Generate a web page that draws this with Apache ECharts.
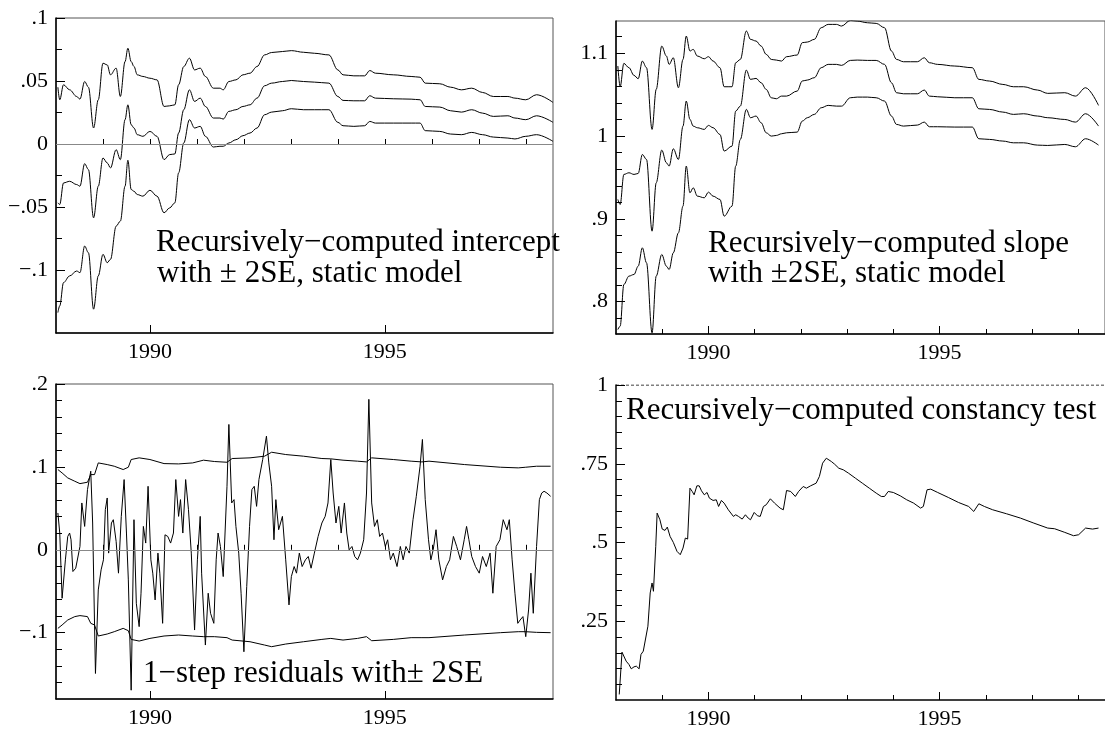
<!DOCTYPE html>
<html><head><meta charset="utf-8">
<script src="https://cdn.jsdelivr.net/npm/echarts@6/dist/echarts.min.js"></script>
<style>html,body{margin:0;padding:0;background:#fff}#c{width:1105px;height:730px}</style>
</head><body><div id="c"></div><script>
// ---------- x axis ----------
const X_MIN = 1988, X_MAX = 1998.58;
const xMajor = [1990, 1995];
const xMinor = [1989, 1990, 1991, 1992, 1993, 1994, 1995, 1996, 1997, 1998];

// ---------- panel 1: recursive intercept ----------
const interceptYears = [
1988.04,1988.08,1988.16,1988.29,1988.44,1988.51,1988.61,1988.69,1988.80,1988.90,
1989.00,1989.09,1989.16,1989.28,1989.37,1989.47,1989.53,1989.60,1989.66,1989.73,
1989.85,1990.00,1990.15,1990.30,1990.42,1990.53,1990.61,1990.72,1990.84,1990.95,
1991.07,1991.18,1991.35,1991.49,1991.56,1991.68,1991.83,1991.98,1992.13,1992.28,
1992.44,1992.59,1992.82,1993.01,1993.27,1993.50,1993.81,1994.00,1994.11,1994.34,
1994.57,1994.68,1994.80,1995.18,1995.56,1995.75,1995.86,1996.17,1996.40,1996.63,
1996.85,1997.08,1997.31,1997.62,1997.77,1998.00,1998.23,1998.58];
const interceptUpper = [
0.0451,0.0351,0.0470,0.0430,0.0377,0.0356,0.0496,0.0451,0.0127,0.0351,
0.0641,0.0628,0.0549,0.0602,0.0377,0.0654,0.0760,0.0654,0.0615,0.0549,
0.0536,0.0522,0.0509,0.0298,0.0303,0.0311,0.0470,0.0615,0.0681,0.0588,
0.0602,0.0536,0.0443,0.0443,0.0430,0.0496,0.0509,0.0549,0.0562,0.0615,
0.0707,0.0726,0.0734,0.0741,0.0728,0.0720,0.0707,0.0588,0.0549,0.0541,
0.0541,0.0583,0.0562,0.0549,0.0536,0.0530,0.0483,0.0478,0.0451,0.0430,
0.0443,0.0409,0.0377,0.0377,0.0364,0.0351,0.0391,0.0330];
const interceptMid = [
-0.0467,-0.0480,-0.0309,-0.0296,-0.0322,-0.0335,-0.0156,-0.0203,-0.0586,-0.0335,
-0.0111,-0.0150,-0.0190,-0.0045,-0.0124,0.0193,0.0311,0.0153,0.0127,0.0074,
0.0061,0.0100,0.0061,-0.0124,-0.0084,-0.0079,0.0087,0.0272,0.0430,0.0338,
0.0364,0.0298,0.0206,0.0206,0.0198,0.0259,0.0272,0.0298,0.0311,0.0364,
0.0462,0.0483,0.0496,0.0504,0.0496,0.0491,0.0483,0.0377,0.0346,0.0343,
0.0343,0.0383,0.0364,0.0359,0.0356,0.0351,0.0298,0.0293,0.0264,0.0253,
0.0272,0.0245,0.0219,0.0224,0.0206,0.0193,0.0224,0.0172];
const interceptLower = [
-0.1338,-0.1285,-0.1100,-0.1047,-0.1008,-0.1021,-0.0810,-0.0863,-0.1311,-0.1047,
-0.0876,-0.0942,-0.0916,-0.0652,-0.0612,-0.0335,-0.0129,-0.0361,-0.0375,-0.0401,
-0.0414,-0.0367,-0.0414,-0.0546,-0.0507,-0.0467,-0.0230,0.0008,0.0193,0.0127,
0.0140,0.0061,-0.0024,-0.0018,-0.0018,0.0008,0.0034,0.0066,0.0087,0.0127,
0.0232,0.0253,0.0264,0.0280,0.0272,0.0272,0.0272,0.0172,0.0145,0.0140,
0.0145,0.0179,0.0166,0.0166,0.0166,0.0166,0.0106,0.0100,0.0079,0.0074,
0.0092,0.0074,0.0055,0.0047,0.0040,0.0061,0.0074,0.0021];
const interceptMajor = [-0.1, -0.05, 0, 0.05, 0.1];
const interceptMinor = [-0.125, -0.075, -0.025, 0.025, 0.075];

// ---------- panel 2: recursive slope ----------
const slopeYears = [
1988.04,1988.09,1988.17,1988.28,1988.39,1988.48,1988.57,1988.66,1988.78,1988.87,
1988.99,1989.09,1989.15,1989.24,1989.35,1989.45,1989.52,1989.60,1989.67,1989.76,
1989.91,1990.00,1990.10,1990.25,1990.34,1990.51,1990.59,1990.69,1990.82,1990.91,
1991.03,1991.14,1991.25,1991.36,1991.47,1991.58,1991.69,1991.92,1992.03,1992.14,
1992.29,1992.44,1992.59,1992.77,1992.88,1993.07,1993.22,1993.44,1993.63,1993.81,
1993.96,1994.07,1994.22,1994.52,1994.67,1994.78,1994.96,1995.33,1995.71,1995.85,
1996.08,1996.37,1996.60,1996.82,1997.12,1997.34,1997.71,1997.94,1998.16,1998.44];
const slopeUpper = [
1.0846,1.0596,1.0878,1.0826,1.0733,1.0693,1.0906,1.0826,1.0081,1.0564,
1.1087,1.0967,1.0866,1.0946,1.0584,1.0926,1.1208,1.1027,1.1047,1.0967,
1.0934,1.0959,1.0906,1.0826,1.0596,1.0596,1.0886,1.0926,1.1269,1.1168,
1.1148,1.1087,1.0987,1.0926,1.0918,1.0906,1.0959,1.0979,1.1128,1.1136,
1.1168,1.1309,1.1349,1.1349,1.1329,1.1397,1.1389,1.1369,1.1361,1.1309,
1.1027,1.0926,1.0898,1.0898,1.0946,1.0886,1.0866,1.0846,1.0826,1.0685,
1.0665,1.0624,1.0596,1.0596,1.0556,1.0516,1.0524,1.0483,1.0584,1.0371];
const slopeMid = [
0.9235,0.9174,0.9537,0.9557,0.9537,0.9549,0.9778,0.9718,0.8852,0.9436,
0.9831,0.9678,0.9638,0.9847,0.9718,1.0121,1.0423,1.0201,1.0121,1.0101,
1.0081,1.0129,1.0101,1.0020,0.9819,0.9879,1.0302,1.0362,1.0797,1.0685,
1.0697,1.0644,1.0564,1.0463,1.0451,1.0483,1.0483,1.0544,1.0665,1.0677,
1.0705,1.0826,1.0866,1.0866,1.0854,1.0914,1.0918,1.0914,1.0914,1.0866,
1.0644,1.0524,1.0511,1.0511,1.0556,1.0483,1.0475,1.0463,1.0463,1.0330,
1.0322,1.0290,1.0262,1.0270,1.0242,1.0222,1.0201,1.0169,1.0270,1.0121];
const slopeLower = [
0.7664,0.7704,0.8208,0.8309,0.8329,0.8429,0.8651,0.8470,0.7624,0.8309,
0.8570,0.8429,0.8389,0.8590,0.8832,0.9154,0.9638,0.9315,0.9376,0.9275,
0.9255,0.9323,0.9275,0.9235,0.9033,0.9154,0.9638,0.9960,1.0322,1.0222,
1.0242,1.0161,1.0040,1.0000,1.0008,1.0028,1.0040,1.0048,1.0181,1.0222,
1.0262,1.0342,1.0371,1.0362,1.0362,1.0463,1.0471,1.0471,1.0463,1.0423,
1.0242,1.0141,1.0121,1.0133,1.0169,1.0113,1.0113,1.0109,1.0109,0.9968,
0.9960,0.9940,0.9919,0.9919,0.9891,0.9887,0.9899,0.9871,0.9968,0.9891];
const slopeMajor = [0.8, 0.9, 1, 1.1];
const slopeMinor = [0.78,0.82,0.84,0.86,0.88,0.92,0.94,0.96,0.98,1.02,1.04,1.06,1.08,1.12];

// ---------- panel 3: 1-step residuals with +-2SE ----------
const bandYears = [
1988.04,1988.13,1988.25,1988.40,1988.51,1988.67,1988.74,1988.82,1988.90,1989.09,
1989.24,1989.43,1989.54,1989.60,1989.77,1990.00,1990.30,1990.61,1990.91,1991.14,
1991.37,1991.64,1991.75,1992.13,1992.44,1992.59,1992.89,1993.27,1993.66,1993.85,
1994.11,1994.42,1994.61,1994.72,1995.18,1995.56,1995.79,1995.94,1996.70,1997.46,
1997.84,1998.00,1998.23,1998.53];
const bandUpper = [
0.0968,0.0927,0.0867,0.0827,0.0798,0.0815,0.0907,0.0907,0.1048,0.1028,
0.1008,0.0968,0.0996,0.1089,0.1109,0.1089,0.1040,0.1036,0.1048,0.1081,
0.1065,0.1056,0.1101,0.1109,0.1129,0.1177,0.1149,0.1129,0.1101,0.1097,
0.1081,0.1069,0.1060,0.1109,0.1089,0.1069,0.1060,0.1069,0.1028,0.0996,
0.0988,0.0996,0.1008,0.1008];
const bandLower = [
-0.0948,-0.0907,-0.0847,-0.0806,-0.0794,-0.0806,-0.0887,-0.0907,-0.1040,-0.1016,
-0.0988,-0.0948,-0.0976,-0.1081,-0.1101,-0.1069,-0.1040,-0.1028,-0.1040,-0.1048,
-0.1048,-0.1060,-0.1089,-0.1109,-0.1149,-0.1169,-0.1137,-0.1109,-0.1081,-0.1069,
-0.1089,-0.1069,-0.1048,-0.1097,-0.1081,-0.1060,-0.1060,-0.1060,-0.1028,-0.1000,
-0.0988,-0.0988,-0.0996,-0.1000];
const residuals = [
[1988.04,0.0444],[1988.08,0.0202],[1988.13,-0.0585],[1988.20,-0.0121],[1988.25,0.0161],
[1988.29,0.0202],[1988.32,0.0121],[1988.36,-0.0262],[1988.42,-0.0222],[1988.46,-0.0242],
[1988.51,0.0040],[1988.55,0.0565],[1988.61,0.0282],[1988.67,0.0726],[1988.71,0.0706],
[1988.74,0.0948],[1988.78,0.0323],[1988.84,-0.1492],[1988.90,-0.0484],[1988.96,-0.0242],
[1989.01,-0.0121],[1989.05,0.0484],[1989.09,0.0625],[1989.12,-0.0040],[1989.18,0.0323],
[1989.22,0.0363],[1989.28,0.0101],[1989.33,-0.0282],[1989.39,0.0403],[1989.45,0.0847],
[1989.50,0.0202],[1989.54,-0.0363],[1989.60,-0.1694],[1989.66,0.0363],[1989.71,-0.0645],
[1989.77,-0.0927],[1989.81,-0.0524],[1989.86,0.0282],[1989.91,0.0081],[1989.96,0.0766],
[1990.02,-0.0121],[1990.06,-0.0282],[1990.11,-0.0605],[1990.17,-0.0040],[1990.21,-0.0282],
[1990.27,-0.0887],[1990.32,0.0181],[1990.38,0.0161],[1990.44,0.0081],[1990.50,0.0202],
[1990.55,0.0847],[1990.61,0.0403],[1990.65,0.0605],[1990.70,0.0202],[1990.76,0.0847],
[1990.82,0.0484],[1990.88,-0.0040],[1990.95,-0.0968],[1991.01,-0.0121],[1991.07,0.0403],
[1991.10,-0.0282],[1991.18,-0.1149],[1991.24,-0.0524],[1991.29,-0.0766],[1991.36,-0.0887],
[1991.41,-0.0121],[1991.45,0.0202],[1991.50,0.0040],[1991.56,-0.0323],[1991.64,0.0766],
[1991.68,0.1512],[1991.74,0.0565],[1991.79,0.0605],[1991.83,0.0282],[1991.89,-0.0040],
[1991.94,-0.0524],[1992.00,-0.1230],[1992.06,-0.0444],[1992.12,0.0282],[1992.17,0.0726],
[1992.22,0.0766],[1992.27,0.0524],[1992.32,0.0847],[1992.40,0.1089],[1992.48,0.1371],
[1992.53,0.1048],[1992.59,0.0766],[1992.64,0.0121],[1992.68,0.0605],[1992.74,0.0242],
[1992.82,0.0403],[1992.89,-0.0121],[1992.96,-0.0665],[1993.01,-0.0323],[1993.07,-0.0202],
[1993.12,-0.0282],[1993.18,-0.0040],[1993.24,-0.0202],[1993.31,-0.0121],[1993.37,-0.0081],
[1993.43,-0.0222],[1993.50,-0.0040],[1993.58,0.0161],[1993.66,0.0323],[1993.73,0.0403],
[1993.79,0.0565],[1993.85,0.1089],[1993.90,0.0685],[1993.96,0.0323],[1994.02,0.0524],
[1994.07,0.0202],[1994.14,0.0565],[1994.19,0.0202],[1994.24,0.0000],[1994.30,0.0040],
[1994.36,-0.0081],[1994.42,-0.0121],[1994.48,-0.0040],[1994.55,0.0121],[1994.61,0.0685],
[1994.66,0.1815],[1994.72,0.0565],[1994.78,0.0282],[1994.84,0.0363],[1994.89,0.0161],
[1994.95,0.0202],[1995.01,0.0040],[1995.06,0.0121],[1995.12,-0.0121],[1995.18,-0.0040],
[1995.26,-0.0202],[1995.33,0.0040],[1995.39,-0.0121],[1995.45,0.0040],[1995.52,-0.0040],
[1995.60,0.0363],[1995.67,0.0645],[1995.75,0.1008],[1995.80,0.1331],[1995.86,0.0605],
[1995.93,0.0121],[1995.98,-0.0121],[1996.03,0.0000],[1996.09,0.0242],[1996.15,-0.0121],
[1996.23,-0.0363],[1996.31,-0.0202],[1996.38,-0.0121],[1996.46,0.0161],[1996.53,0.0040],
[1996.61,-0.0121],[1996.69,0.0121],[1996.74,0.0282],[1996.79,0.0121],[1996.85,-0.0081],
[1996.93,-0.0202],[1997.01,-0.0282],[1997.08,-0.0081],[1997.16,-0.0202],[1997.24,-0.0040],
[1997.30,-0.0524],[1997.37,0.0040],[1997.45,0.0121],[1997.52,0.0363],[1997.60,0.0242],
[1997.65,0.0363],[1997.71,-0.0121],[1997.77,-0.0524],[1997.83,-0.0887],[1997.88,-0.0847],
[1997.94,-0.0806],[1998.00,-0.1048],[1998.06,-0.0726],[1998.11,-0.0282],[1998.16,-0.0766],
[1998.23,0.0040],[1998.29,0.0605],[1998.34,0.0685],[1998.39,0.0706],[1998.45,0.0685],
[1998.53,0.0645]];
const residMajor = [-0.1, 0, 0.1, 0.2];
const residMinor = [-0.16,-0.14,-0.12,-0.08,-0.06,-0.04,-0.02,0.02,0.04,0.06,0.08,0.12,0.14,0.16,0.18];

// ---------- panel 4: recursive constancy test ----------
const constancy = [
[1988.07,0.0176],[1988.10,0.0145],[1988.13,0.1518],[1988.17,0.1497],[1988.22,0.1233],
[1988.28,0.1127],[1988.33,0.0990],[1988.39,0.1053],[1988.44,0.1074],[1988.50,0.0990],
[1988.54,0.1444],[1988.59,0.1550],[1988.63,0.1603],[1988.69,0.2342],[1988.74,0.3398],
[1988.78,0.3715],[1988.81,0.3451],[1988.86,0.4877],[1988.89,0.5933],[1988.95,0.5722],
[1989.00,0.5426],[1989.06,0.5384],[1989.11,0.5490],[1989.17,0.5194],[1989.24,0.5004],
[1989.32,0.4719],[1989.39,0.4613],[1989.45,0.4824],[1989.50,0.5141],[1989.55,0.5109],
[1989.60,0.6725],[1989.65,0.6620],[1989.69,0.6514],[1989.75,0.6799],[1989.80,0.6799],
[1989.85,0.6641],[1989.91,0.6514],[1989.97,0.6588],[1990.02,0.6409],[1990.10,0.6335],
[1990.17,0.6356],[1990.22,0.6144],[1990.28,0.6335],[1990.34,0.6250],[1990.43,0.6039],
[1990.54,0.5828],[1990.59,0.5880],[1990.65,0.5828],[1990.73,0.5743],[1990.80,0.5880],
[1990.86,0.5775],[1990.91,0.5722],[1990.99,0.5954],[1991.06,0.5849],[1991.12,0.5828],
[1991.19,0.6144],[1991.25,0.6197],[1991.34,0.6387],[1991.43,0.6250],[1991.55,0.6092],
[1991.62,0.6039],[1991.69,0.6651],[1991.78,0.6620],[1991.88,0.6461],[1991.95,0.6620],
[1992.05,0.6778],[1992.12,0.6725],[1992.21,0.6799],[1992.33,0.6883],[1992.40,0.7095],
[1992.47,0.7518],[1992.55,0.7676],[1992.66,0.7570],[1992.73,0.7486],[1992.82,0.7359],
[1992.92,0.7306],[1993.03,0.7201],[1993.18,0.7042],[1993.33,0.6883],[1993.48,0.6725],
[1993.63,0.6567],[1993.74,0.6461],[1993.81,0.6461],[1993.89,0.6620],[1994.00,0.6588],
[1994.15,0.6482],[1994.29,0.6356],[1994.44,0.6250],[1994.59,0.6092],[1994.65,0.6144],
[1994.73,0.6673],[1994.81,0.6694],[1994.96,0.6588],[1995.19,0.6430],[1995.41,0.6271],
[1995.63,0.6144],[1995.74,0.5986],[1995.85,0.6229],[1995.97,0.6144],[1996.15,0.6039],
[1996.45,0.5912],[1996.75,0.5775],[1997.04,0.5616],[1997.34,0.5458],[1997.49,0.5437],
[1997.71,0.5321],[1997.90,0.5215],[1998.01,0.5247],[1998.16,0.5458],[1998.31,0.5426],
[1998.44,0.5458]];
const critYears = [1988, 1998.58];
const critValues = [1, 1];
const constMajor = [0.25, 0.5, 0.75, 1];
const constMinor = [0.05,0.1,0.15,0.2,0.3,0.35,0.4,0.45,0.55,0.6,0.65,0.7,0.8,0.85,0.9,0.95];

// ---------- helpers ----------
const FONT = '"Liberation Serif", "Times New Roman", serif';
function fmt(v) {
  let s = String(+Number(v).toFixed(4));
  if (s.startsWith('0.')) s = s.slice(1);
  else if (s.startsWith('-0.')) s = '\u2212' + s.slice(2);
  else if (s.startsWith('-')) s = '\u2212' + s.slice(1);
  return s;
}
const yearFmt = v => String(Math.round(v));
const zip = (xs, ys) => xs.map((x, i) => [x, ys[i]]);

function xAxesFor(g) {
  return [
    { type: 'value', gridIndex: g, min: X_MIN, max: X_MAX, position: 'bottom',
      axisLine: { show: true, onZero: false, lineStyle: { color: '#000', width: 1.5 } },
      axisTick: { show: true, inside: true, length: 8, customValues: xMajor, lineStyle: { color: '#000', width: 1 } },
      axisLabel: { show: true, customValues: xMajor, formatter: yearFmt, fontFamily: FONT, fontSize: 22, color: '#000', margin: 8 },
      splitLine: { show: false } },
    { type: 'value', gridIndex: g, min: X_MIN, max: X_MAX, position: 'bottom',
      axisLine: { show: false },
      axisTick: { show: true, inside: true, length: 5, customValues: xMinor, lineStyle: { color: '#000', width: 1 } },
      axisLabel: { show: false }, splitLine: { show: false } }
  ];
}
function yAxesFor(g, min, max, major, minor) {
  return [
    { type: 'value', gridIndex: g, min: min, max: max, position: 'left',
      axisLine: { show: true, onZero: false, lineStyle: { color: '#000', width: 1.5 } },
      axisTick: { show: true, inside: true, length: 9, customValues: major, lineStyle: { color: '#000', width: 1 } },
      axisLabel: { show: true, customValues: major, formatter: fmt, fontFamily: FONT, fontSize: 22, color: '#000', margin: 8 },
      splitLine: { show: false } },
    { type: 'value', gridIndex: g, min: min, max: max, position: 'left',
      axisLine: { show: false },
      axisTick: { show: true, inside: true, length: 6, customValues: minor, lineStyle: { color: '#000', width: 1 } },
      axisLabel: { show: false }, splitLine: { show: false } }
  ];
}
function line(data, xi, extra) {
  return Object.assign({ type: 'line', data: data, xAxisIndex: xi, yAxisIndex: xi,
    showSymbol: false, symbol: 'none', silent: true, animation: false,
    lineStyle: { color: '#000', width: 1 } }, extra || {});
}
const zeroLine = { silent: true, symbol: ['none', 'none'], label: { show: false },
  lineStyle: { color: '#888', width: 1, type: 'solid' }, data: [{ yAxis: 0 }] };
const SM = { smooth: 0.35, smoothMonotone: 'x' };

const option = {
  backgroundColor: '#fff',
  animation: false,
  grid: [
    { left: 56, top: 18, width: 497, height: 315, show: true, borderColor: '#555', borderWidth: 1 },
    { left: 616, top: 21, width: 497, height: 313, show: true, borderColor: '#555', borderWidth: 1 },
    { left: 56, top: 384, width: 497, height: 315, show: true, borderColor: '#555', borderWidth: 1 },
    { left: 616, top: 385, width: 497, height: 315, show: false }
  ],
  xAxis: [].concat(xAxesFor(0), xAxesFor(1), xAxesFor(2), xAxesFor(3)),
  yAxis: [].concat(
    yAxesFor(0, -0.15, 0.1, interceptMajor, interceptMinor),
    yAxesFor(1, 0.761, 1.139, slopeMajor, slopeMinor),
    yAxesFor(2, -0.18, 0.2, residMajor, residMinor),
    yAxesFor(3, 0, 1, constMajor, constMinor)),
  series: [
    line(zip(interceptYears, interceptUpper), 0, SM),
    line(zip(interceptYears, interceptMid), 0, Object.assign({ markLine: zeroLine }, SM)),
    line(zip(interceptYears, interceptLower), 0, SM),
    line(zip(slopeYears, slopeUpper), 2, SM),
    line(zip(slopeYears, slopeMid), 2, SM),
    line(zip(slopeYears, slopeLower), 2, SM),
    line(zip(bandYears, bandUpper), 4),
    line(zip(bandYears, bandLower), 4),
    line(residuals, 4, { markLine: zeroLine }),
    line(constancy, 6),
    line(zip(critYears, critValues), 6, { lineStyle: { color: '#000', width: 1, type: [3, 2] } })
  ],
  graphic: [
    { type: 'text', x: 156, y: 243, style: { text: 'Recursively\u2212computed intercept', font: '31px ' + FONT, fill: '#000', textAlign: 'left', textVerticalAlign: 'middle' } },
    { type: 'text', x: 157, y: 274, style: { text: 'with \u00b1 2SE, static model', font: '31px ' + FONT, fill: '#000', textAlign: 'left', textVerticalAlign: 'middle' } },
    { type: 'text', x: 708, y: 244, style: { text: 'Recursively\u2212computed slope', font: '31px ' + FONT, fill: '#000', textAlign: 'left', textVerticalAlign: 'middle' } },
    { type: 'text', x: 708, y: 274, style: { text: 'with \u00b12SE, static model', font: '31px ' + FONT, fill: '#000', textAlign: 'left', textVerticalAlign: 'middle' } },
    { type: 'text', x: 143, y: 674, style: { text: '1\u2212step residuals with\u00b1 2SE', font: '31px ' + FONT, fill: '#000', textAlign: 'left', textVerticalAlign: 'middle' } },
    { type: 'text', x: 626, y: 411, style: { text: 'Recursively\u2212computed constancy test', font: '31px ' + FONT, fill: '#000', textAlign: 'left', textVerticalAlign: 'middle' } }
  ]
};
const chart = echarts.init(document.getElementById('c'), null, { renderer: 'canvas' });
chart.setOption(option);
</script></body></html>
